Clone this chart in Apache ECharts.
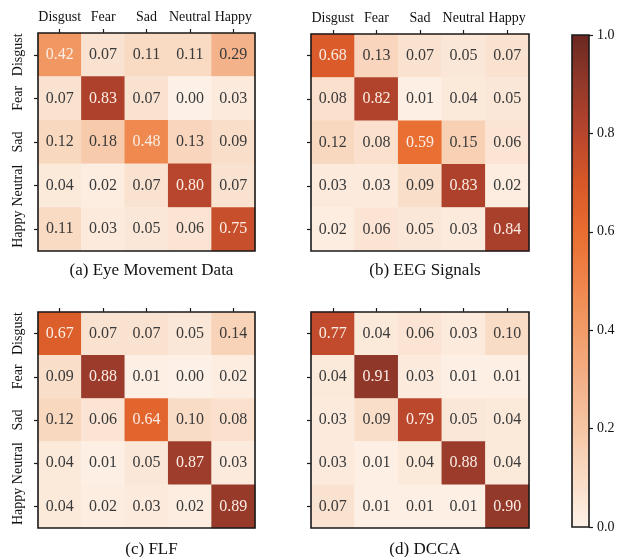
<!DOCTYPE html>
<html>
<head>
<meta charset="utf-8">
<title>Confusion matrices</title>
<script src="https://cdn.jsdelivr.net/npm/echarts@6/dist/echarts.min.js"></script>
<style>
  html, body { margin: 0; padding: 0; background: #ffffff; }
  #chart { width: 618px; height: 557px; }
</style>
</head>
<body>
<div id="chart"></div>
<script>
// Emotion classes (rows = true label, columns = predicted label)
const classes = ['Disgust', 'Fear', 'Sad', 'Neutral', 'Happy'];

const eyeMovement = [
  [0.42, 0.07, 0.11, 0.11, 0.29],
  [0.07, 0.83, 0.07, 0.00, 0.03],
  [0.12, 0.18, 0.48, 0.13, 0.09],
  [0.04, 0.02, 0.07, 0.80, 0.07],
  [0.11, 0.03, 0.05, 0.06, 0.75]
];
const eegSignals = [
  [0.68, 0.13, 0.07, 0.05, 0.07],
  [0.08, 0.82, 0.01, 0.04, 0.05],
  [0.12, 0.08, 0.59, 0.15, 0.06],
  [0.03, 0.03, 0.09, 0.83, 0.02],
  [0.02, 0.06, 0.05, 0.03, 0.84]
];
const flf = [
  [0.67, 0.07, 0.07, 0.05, 0.14],
  [0.09, 0.88, 0.01, 0.00, 0.02],
  [0.12, 0.06, 0.64, 0.10, 0.08],
  [0.04, 0.01, 0.05, 0.87, 0.03],
  [0.04, 0.02, 0.03, 0.02, 0.89]
];
const dcca = [
  [0.77, 0.04, 0.06, 0.03, 0.10],
  [0.04, 0.91, 0.03, 0.01, 0.01],
  [0.03, 0.09, 0.79, 0.05, 0.04],
  [0.03, 0.01, 0.04, 0.88, 0.04],
  [0.07, 0.01, 0.01, 0.01, 0.90]
];
const panelTitles = ['(a) Eye Movement Data', '(b) EEG Signals', '(c) FLF', '(d) DCCA'];
const colorbarTicks = [0, 0.2, 0.4, 0.6, 0.8, 1.0];

// Sequential orange-to-brown colour ramp, 0.0 .. 1.0
const ramp = ['#fdf1e7', '#f9dcc6', '#f6c6a4', '#f3b087', '#f29c68', '#ef844a',
              '#e96d30', '#d75828', '#b8452d', '#93392a', '#6b2821'];

const FONT = '"Liberation Serif", "DejaVu Serif", serif';
const matrices = [eyeMovement, eegSignals, flf, dcca];

const grids = [
  { left: 38,  top: 33,  width: 217, height: 218 },
  { left: 311, top: 34,  width: 218, height: 217 },
  { left: 38,  top: 312, width: 217, height: 216 },
  { left: 311, top: 312, width: 218, height: 216 }
];

const gridOpts = grids.map(g => Object.assign({
  show: true, z: 10, backgroundColor: 'transparent',
  borderColor: '#1a1a1a', borderWidth: 1.6
}, g));
// colour bar frame
gridOpts.push({ show: true, z: 10, backgroundColor: 'transparent', borderColor: '#1a1a1a',
  borderWidth: 1.6, left: 572, top: 35, width: 17, height: 492 });

const xAxes = grids.map((g, i) => ({
  type: 'category', gridIndex: i, data: classes, position: 'top',
  axisLine: { show: false },
  axisTick: { show: true, alignWithLabel: true, length: 4, inside: false,
              lineStyle: { color: '#1a1a1a', width: 1.2 } },
  axisLabel: { show: i < 2, margin: 9, color: '#111', fontFamily: FONT, fontSize: 14, interval: 0 },
  splitLine: { show: false }
}));
const yAxes = grids.map((g, i) => ({
  type: 'category', gridIndex: i, data: classes, inverse: true,
  axisLine: { show: false },
  axisTick: { show: true, alignWithLabel: true, length: 4, inside: false,
              lineStyle: { color: '#1a1a1a', width: 1.2 } },
  axisLabel: { show: i % 2 === 0, rotate: 90, margin: 13, color: '#111', fontFamily: FONT,
               fontSize: 14, interval: 0, align: 'center', verticalAlign: 'bottom' },
  splitLine: { show: false }
}));

// colour bar axes
xAxes.push({ type: 'category', gridIndex: 4, data: ['bar'], show: false,
             axisTick: { show: false }, axisLine: { show: false } });
yAxes.push({
  type: 'value', gridIndex: 4, min: 0, max: 1, interval: 0.2, position: 'right',
  axisLine: { show: false },
  axisTick: { show: true, length: 4, inside: false, lineStyle: { color: '#1a1a1a', width: 1.2 } },
  axisLabel: { margin: 8, color: '#111', fontFamily: FONT, fontSize: 14,
               formatter: v => v.toFixed(1) },
  splitLine: { show: false }
});

const series = matrices.map((m, i) => {
  const data = [];
  m.forEach((row, r) => row.forEach((v, c) => {
    data.push({
      value: [c, r, v],
      label: { color: v > 0.4 ? '#fbeee6' : '#3a3a3a' }
    });
  }));
  return {
    type: 'heatmap', xAxisIndex: i, yAxisIndex: i, data: data,
    label: { show: true, fontFamily: FONT, fontSize: 16,
             formatter: p => p.value[2].toFixed(2) },
    itemStyle: { borderWidth: 0 },
    emphasis: { disabled: true }
  };
});

// colour bar body drawn as one full-height bar
series.push({
  type: 'bar', xAxisIndex: 4, yAxisIndex: 4, data: [colorbarTicks[colorbarTicks.length - 1]],
  barWidth: '100%', silent: true,
  itemStyle: {
    color: new echarts.graphic.LinearGradient(0, 1, 0, 0,
      ramp.map((c, k) => ({ offset: k / (ramp.length - 1), color: c })))
  }
});

const titles = panelTitles.map((t, i) => ({
  text: t,
  left: grids[i].left + grids[i].width / 2,
  top: i < 2 ? 257 : 536,
  textAlign: 'center',
  textStyle: { fontFamily: FONT, fontSize: 17, fontWeight: 'normal', color: '#111' }
}));

const chart = echarts.init(document.getElementById('chart'), null, { renderer: 'canvas' });
chart.setOption({
  backgroundColor: '#ffffff',
  animation: false,
  title: titles,
  grid: gridOpts,
  xAxis: xAxes,
  yAxis: yAxes,
  visualMap: {
    show: false, type: 'continuous', min: 0, max: 1, dimension: 2,
    seriesIndex: [0, 1, 2, 3],
    inRange: { color: ramp }
  },
  series: series
});
</script>
</body>
</html>
